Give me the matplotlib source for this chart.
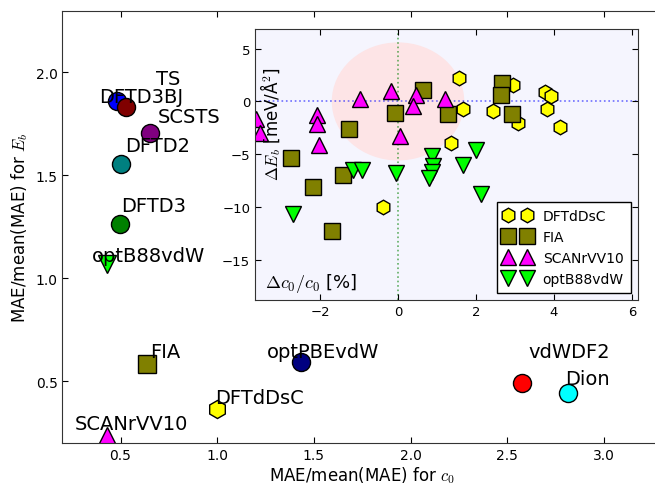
import matplotlib
matplotlib.use("Agg")
import matplotlib.pyplot as plt
from matplotlib.patches import Ellipse

plt.rcParams['font.family'] = ['DejaVu Sans']
plt.rcParams['mathtext.fontset'] = 'cm'
plt.rcParams['xtick.direction'] = 'in'
plt.rcParams['ytick.direction'] = 'in'
plt.rcParams['xtick.top'] = True
plt.rcParams['ytick.right'] = True
plt.rcParams['xtick.major.size'] = 4
plt.rcParams['ytick.major.size'] = 4
plt.rcParams['axes.edgecolor'] = '#333333'

# ---------------- main plot data ----------------
main_labels = ['TS', 'DFTD3BJ', 'SCSTS', 'DFTD2', 'DFTD3', 'optB88vdW', 'FIA',
               'optPBEvdW', 'DFTdDsC', 'SCANrVV10', 'vdWDF2', 'Dion']
main_x = [0.48, 0.53, 0.65, 0.505, 0.495, 0.43, 0.635, 1.435, 1.0, 0.43, 2.575, 2.815]
main_y = [1.86, 1.83, 1.705, 1.555, 1.265, 1.07, 0.585, 0.595, 0.366, 0.235, 0.492, 0.443]
main_markers = ['o', 'o', 'o', 'o', 'o', 'v', 's', 'o', 'h', '^', 'o', 'o']
main_colors = ['#0000ff', '#800000', '#800080', '#008080', '#008000', '#00ff00',
               '#808000', '#000080', '#ffff00', '#ff00ff', '#ff0000', '#00ffff']
label_offsets = [(39, 17), (-27, 5), (8, 11), (4, 13), (2, 13), (-15, 3),
                 (4, 7), (-34, 5), (-2, 6), (-32, 7), (7, 26), (-3, 9)]

# ---------------- inset data ----------------
dftd_x = [1.57, 2.96, 3.76, 3.92, 1.66, 2.43, 3.83, 3.09, 4.16, 1.36, -0.38]
dftd_y = [2.22, 1.52, 0.85, 0.51, -0.76, -0.95, -0.76, -2.02, -2.43, -3.92, -10.03]

fia_x = [2.66, 2.64, 0.65, -0.09, 1.28, 2.93, -1.25, -2.75, -1.40, -2.17, -1.70]
fia_y = [1.75, 0.64, 1.11, -1.10, -1.17, -1.17, -2.59, -5.38, -6.96, -8.13, -12.25]

scan_x = [-0.98, -0.18, 0.46, 1.21, 0.38, -2.07, -2.09, -2.02, 0.05, -3.65, -3.55]
scan_y = [0.19, 0.95, 0.64, 0.26, -0.44, -1.26, -2.12, -4.11, -3.29, -1.65, -2.97]

optb_x = [-1.15, -0.93, -0.05, 0.87, 0.89, 0.87, 0.80, 1.68, 2.00, 2.12, -2.69]
optb_y = [-6.46, -6.46, -6.77, -5.13, -6.08, -6.65, -7.28, -6.01, -4.65, -8.77, -10.66]

inset_series = [
    ('DFTdDsC', dftd_x, dftd_y, 'h', '#ffff00', 10.5),
    ('FIA', fia_x, fia_y, 's', '#808000', 11.5),
    ('SCANrVV10', scan_x, scan_y, '^', '#ff00ff', 11),
    ('optB88vdW', optb_x, optb_y, 'v', '#00ff00', 11),
]

fig = plt.figure(figsize=(6.55, 4.89), dpi=100)
fig.patch.set_facecolor('white')

ax = fig.add_axes([0.0954, 0.092, 0.9153, 0.884])
for lab, x, y, m, c, off in zip(main_labels, main_x, main_y, main_markers,
                                main_colors, label_offsets):
    ax.plot([x], [y], linestyle='none', marker=m, markersize=13,
            markerfacecolor=c, markeredgecolor='black', markeredgewidth=1)
    ax.annotate(lab, (x, y), xytext=off, textcoords='offset pixels',
                fontsize=14, ha='left', va='baseline')
ax.set_xlim(0.2, 3.3)
ax.set_ylim(0.2, 2.3)
ax.set_xticks([0.5, 1.0, 1.5, 2.0, 2.5, 3.0])
ax.set_yticks([0.5, 1.0, 1.5, 2.0])
ax.tick_params(labelsize=10)
ax.set_xlabel(r'MAE/mean(MAE) for $c_0$', fontsize=12, labelpad=2)
ax.set_ylabel(r'MAE/mean(MAE) for $E_b$', fontsize=12)

# ---------------- inset ----------------
ins = fig.add_axes([0.3893, 0.3851, 0.5843, 0.5542])
ins.set_facecolor('#f5f5fe')
ins.add_patch(Ellipse((0, 0), width=3.4, height=11.2, facecolor='#fde4e6',
                      edgecolor='none', zorder=1))
ins.axhline(0, color='blue', linestyle=':', linewidth=1.2, alpha=0.55, zorder=1.5)
ins.axvline(0, color='green', linestyle=':', linewidth=1.2, alpha=0.6, zorder=1.5)
for lab, x, y, m, c, ms in inset_series:
    ins.plot(x, y, linestyle='none', marker=m, markersize=ms,
             markerfacecolor=c, markeredgecolor='black', markeredgewidth=1,
             label=lab)
ins.set_xlim(-3.67, 6.15)
ins.set_ylim(-18.8, 6.9)
ins.set_xticks([-2, 0, 2, 4, 6])
ins.set_yticks([-15, -10, -5, 0, 5])
ins.tick_params(labelsize=9.5)
ins.text(0.04, 0.65, r'$\Delta E_b$ [meV/Å$^2$]', rotation=90,
         transform=ins.transAxes, fontsize=12, ha='center', va='center')
ins.text(0.026, 0.02, r'$\Delta c_0/c_0$ [%]', transform=ins.transAxes,
         fontsize=13, ha='left', va='bottom')
leg = ins.legend(loc='lower right', fontsize=10, numpoints=2, fancybox=False,
                 framealpha=1, edgecolor='black', labelspacing=0.5,
                 handlelength=2.0, handletextpad=0.8, borderpad=0.5,
                 borderaxespad=0.5)
leg.get_frame().set_linewidth(1)

fig.savefig('out.png', dpi=100)
